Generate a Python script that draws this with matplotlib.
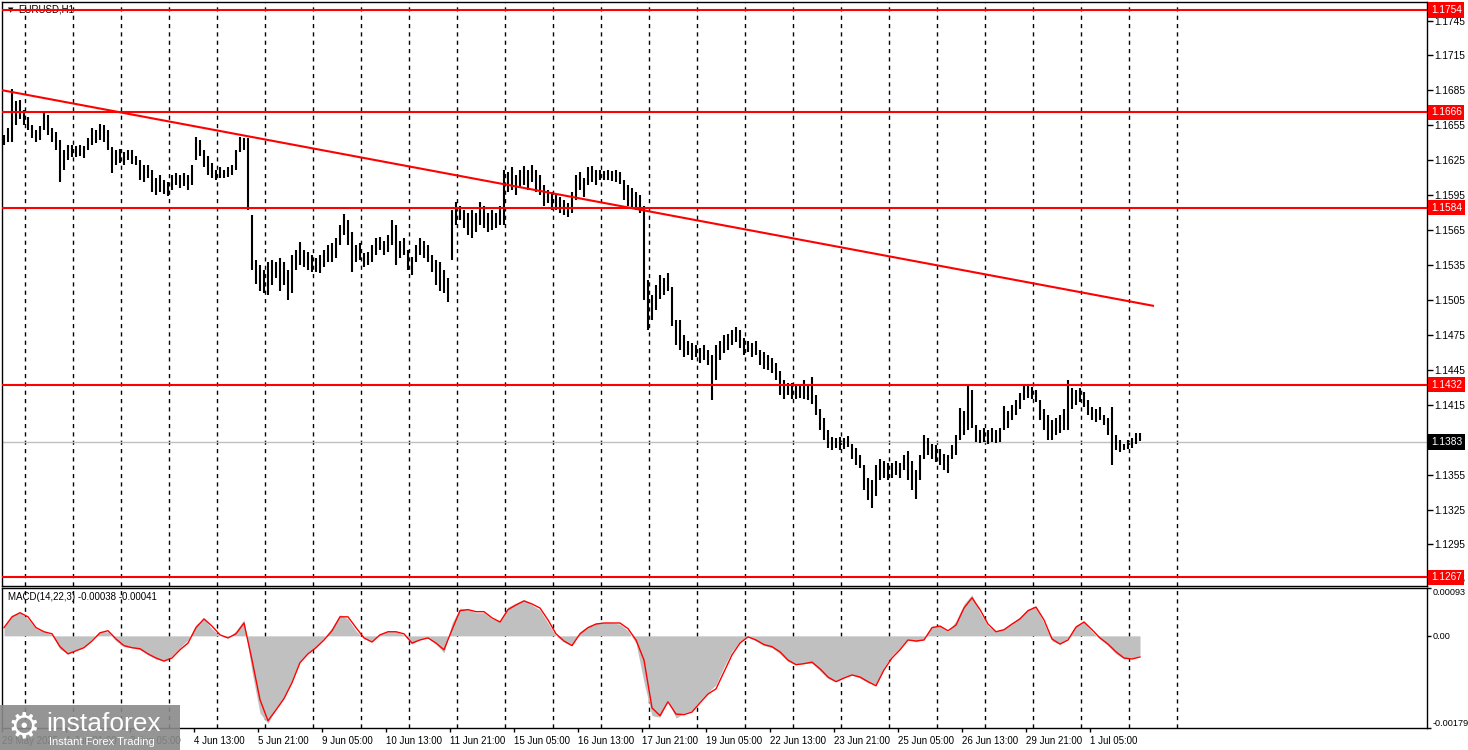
import numpy as np
import matplotlib
matplotlib.use("Agg")
import matplotlib.pyplot as plt
import matplotlib.transforms as mtransforms
from matplotlib.patches import Rectangle

SYMBOL = "EURUSD,H1"

# H1 bars (one entry per 2 hours), high / low in pips above 1.0000 (1645 -> 1.1645)
HIGH = [
    1647, 1653, 1686, 1676, 1677, 1668, 1662, 1655, 1651, 1654,
    1667, 1664, 1653, 1649, 1642, 1634, 1638, 1638, 1637, 1638,
    1637, 1644, 1653, 1651, 1656, 1655, 1651, 1636, 1634, 1635,
    1632, 1634, 1634, 1629, 1625, 1621, 1621, 1617, 1610, 1612,
    1608, 1606, 1612, 1614, 1612, 1614, 1612, 1621, 1645, 1642,
    1634, 1629, 1623, 1617, 1619, 1617, 1619, 1621, 1634, 1645,
    1644, 1644, 1578, 1539, 1535, 1531, 1538, 1539, 1538, 1541,
    1538, 1531, 1544, 1548, 1555, 1548, 1546, 1544, 1541, 1544,
    1548, 1552, 1554, 1558, 1569, 1579, 1574, 1563, 1552, 1554,
    1545, 1546, 1552, 1558, 1559, 1556, 1561, 1574, 1569, 1556,
    1558, 1548, 1542, 1552, 1558, 1556, 1552, 1544, 1539, 1538,
    1531, 1524, 1582, 1589, 1586, 1582, 1580, 1582, 1580, 1589,
    1586, 1580, 1582, 1580, 1586, 1617, 1615, 1619, 1612, 1617,
    1620, 1617, 1621, 1617, 1612, 1604, 1599, 1598, 1595, 1593,
    1591, 1588, 1598, 1612, 1615, 1610, 1619, 1620, 1617, 1617,
    1616, 1617, 1616, 1617, 1615, 1608, 1604, 1601, 1598, 1595,
    1586, 1522, 1509, 1518, 1526, 1524, 1528, 1516, 1488, 1488,
    1475, 1470, 1468, 1466, 1464, 1466, 1462, 1458, 1466, 1470,
    1475, 1476, 1479, 1482, 1479, 1472, 1470, 1468, 1470, 1462,
    1460, 1458, 1455, 1451, 1444, 1436, 1434, 1434, 1432, 1433,
    1436, 1432, 1439, 1423, 1411, 1404, 1393, 1387, 1386, 1387,
    1386, 1388, 1381, 1378, 1372, 1363, 1352, 1350, 1363, 1368,
    1367, 1365, 1365, 1367, 1365, 1372, 1375, 1367, 1359, 1372,
    1389, 1386, 1381, 1380, 1377, 1373, 1372, 1380, 1389, 1412,
    1410, 1432, 1428, 1398, 1393, 1395, 1393, 1395, 1393, 1395,
    1414, 1410, 1415, 1419, 1425, 1432, 1432, 1430, 1428, 1419,
    1411, 1406, 1402, 1404, 1406, 1411, 1436, 1429, 1428, 1429,
    1426, 1419, 1413, 1411, 1413, 1406, 1404, 1413, 1389, 1385,
    1381, 1385, 1386, 1391, 1391,
]
LOW = [
    1638, 1641, 1641, 1655, 1660, 1655, 1651, 1644, 1641, 1642,
    1651, 1647, 1641, 1634, 1606, 1617, 1625, 1628, 1628, 1629,
    1627, 1634, 1638, 1640, 1642, 1641, 1634, 1614, 1621, 1623,
    1621, 1625, 1622, 1621, 1608, 1606, 1610, 1598, 1595, 1598,
    1596, 1594, 1599, 1604, 1601, 1603, 1599, 1604, 1625, 1629,
    1619, 1612, 1610, 1608, 1610, 1610, 1611, 1612, 1617, 1632,
    1634, 1582, 1531, 1519, 1513, 1511, 1509, 1518, 1524, 1513,
    1518, 1505, 1511, 1531, 1535, 1533, 1531, 1529, 1529, 1528,
    1533, 1538, 1538, 1541, 1552, 1561, 1552, 1529, 1538, 1539,
    1533, 1535, 1538, 1544, 1548, 1544, 1546, 1552, 1535, 1541,
    1544, 1531, 1526, 1538, 1544, 1541, 1538, 1529, 1518, 1513,
    1511, 1503, 1539, 1569, 1574, 1567, 1561, 1558, 1563, 1569,
    1567, 1563, 1565, 1567, 1569, 1569, 1598, 1599, 1595, 1601,
    1604, 1599, 1606, 1598, 1595, 1586, 1588, 1582, 1582, 1580,
    1578, 1576, 1580, 1591, 1599, 1593, 1604, 1606, 1604, 1608,
    1608, 1608, 1607, 1606, 1605, 1591, 1586, 1585, 1582, 1580,
    1505, 1479, 1488, 1496, 1506, 1509, 1513, 1483, 1466, 1462,
    1456, 1458, 1453, 1456, 1451, 1453, 1449, 1419, 1436, 1453,
    1459, 1462, 1466, 1469, 1464, 1458, 1460, 1456, 1458, 1449,
    1446, 1445, 1442, 1436, 1423, 1420, 1423, 1420, 1420, 1421,
    1420, 1419, 1416, 1406, 1393, 1385, 1378, 1376, 1378, 1376,
    1377, 1379, 1368, 1363, 1361, 1342, 1333, 1326, 1337, 1350,
    1352, 1350, 1352, 1355, 1352, 1359, 1350, 1342, 1334, 1350,
    1368, 1372, 1368, 1366, 1363, 1359, 1356, 1368, 1372, 1385,
    1389, 1393, 1395, 1383, 1382, 1383, 1381, 1383, 1382, 1383,
    1393, 1395, 1402, 1406, 1411, 1419, 1421, 1420, 1417, 1402,
    1393, 1385, 1385, 1389, 1391, 1393, 1393, 1411, 1415, 1417,
    1413, 1406, 1402, 1400, 1402, 1398, 1389, 1363, 1376, 1374,
    1376, 1377, 1378, 1381, 1384,
]

# MACD(14,22,3), one value every second bar, in units of 1e-5
MACD_MAIN = [
    16, 40, 45, 33, 14, 8, 2, -26, -35, -27,
    -21, -6, 8, 8, -10, -21, -23, -27, -37, -45,
    -49, -39, -23, -8, 22, 33, 14, 0, -4, 10,
    31, -70, -150, -170, -140, -120, -85, -48, -33, -21,
    -4, 16, 41, 33, 10, -6, -10, 4, 8, 8,
    2, -16, -6, -4, -16, -33, 25, 54, 51, 45,
    45, 33, 29, 56, 64, 70, 60, 50, 25, 0,
    -12, -19, 8, 19, 25, 25, 25, 23, 10, -14,
    -90, -155, -158, -125, -160, -150, -145, -125, -110, -95,
    -60, -30, -10, -2, -10, -19, -23, -35, -50, -56,
    -54, -53, -68, -83, -89, -80, -76, -82, -91, -95,
    -60, -38, -23, -6, -12, -6, 19, 19, 8, 29,
    62, 80, 45, 19, 8, 14, 25, 37, 52, 56,
    25, -10, -16, -4, 21, 27, 8, -6, -19, -35,
    -45, -43, -38,
]
MACD_SIGNAL = [
    16, 37, 45, 37, 16, 8, 4, -21, -35, -29,
    -23, -10, 6, 10, -6, -19, -23, -25, -35, -43,
    -49, -43, -27, -14, 16, 33, 19, 2, -4, 4,
    25, -47, -124, -165, -144, -122, -91, -52, -35, -23,
    -8, 10, 37, 37, 16, -4, -12, 2, 8, 8,
    4, -14, -8, -4, -14, -27, 12, 49, 51, 47,
    47, 35, 27, 51, 60, 68, 62, 54, 31, 4,
    -10, -19, 4, 16, 23, 25, 25, 25, 14, -8,
    -47, -140, -155, -128, -152, -153, -148, -130, -113, -103,
    -70, -37, -14, -2, -8, -17, -21, -31, -47, -56,
    -54, -51, -64, -80, -89, -82, -76, -80, -89, -97,
    -66, -43, -27, -8, -10, -8, 16, 19, 10, 21,
    54, 74, 51, 23, 8, 12, 23, 33, 49, 56,
    31, -6, -16, -8, 17, 27, 12, -4, -16, -31,
    -43, -45, -41,
]

LEVELS = [1.1754, 1.1666, 1.1584, 1.1432, 1.1267]
LAST_PRICE = 1.1383
TREND_X = [-0.25, 287.25]
TREND_Y = [1.1685, 1.1500]

PRICE_TICKS = [1.1745, 1.1715, 1.1685, 1.1655, 1.1625, 1.1595, 1.1565, 1.1535,
               1.1505, 1.1475, 1.1445, 1.1415, 1.1385, 1.1355, 1.1325, 1.1295, 1.1265]
MACD_TICKS = [0.00093, 0.0, -0.00179]
MACD_TICK_LABELS = ["0.00093", "0.00", "-0.00179"]
X_LABELS = ["29 May 2025", "1 Jun 21:00", "3 Jun 05:00", "4 Jun 13:00", "5 Jun 21:00",
            "9 Jun 05:00", "10 Jun 13:00", "11 Jun 21:00", "15 Jun 05:00", "16 Jun 13:00",
            "17 Jun 21:00", "19 Jun 05:00", "22 Jun 13:00", "23 Jun 21:00", "25 Jun 05:00",
            "26 Jun 13:00", "29 Jun 21:00", "1 Jul 05:00"]

plt.rcParams["font.family"] = ["Liberation Sans", "DejaVu Sans"]

W, H = 1468, 750
fig = plt.figure(figsize=(W / 100, H / 100), dpi=100)
fig.patch.set_facecolor("white")


def px_axes(l, t, r, b):
    return fig.add_axes([l / W, 1 - b / H, (r - l) / W, (b - t) / H])


ax = px_axes(2, 2, 1427, 586)
axm = px_axes(2, 588, 1427, 728)

xs = np.arange(len(HIGH))
hi = 1 + np.array(HIGH) / 10000
lo = 1 + np.array(LOW) / 10000
XLIM = (-0.5, 355.75)

# ---- price pane ----
ax.vlines(xs, lo, hi, color="black", lw=1.5, zorder=3)
ax.axhline(LAST_PRICE, color="#c0c0c0", lw=1, zorder=2)
for lv in LEVELS:
    ax.axhline(lv, color="#ff0000", lw=1.5, zorder=4)
ax.plot(TREND_X, TREND_Y, color="#ff0000", lw=1.5, zorder=4)
ax.set_xlim(*XLIM)
ax.set_ylim(1.12593, 1.17609)
ax.set_xticks([])
ax.yaxis.tick_right()
ax.set_yticks(PRICE_TICKS)
ax.set_yticklabels([f"{v:.4f}" for v in PRICE_TICKS])
ax.tick_params(axis="y", length=4, width=1, pad=1, labelsize=7.3)

trans = mtransforms.blended_transform_factory(ax.transAxes, ax.transData)
for lv in LEVELS:
    ax.text(1 + 4 / 1425, lv, f"{lv:.4f}", transform=trans, ha="left", va="center",
            fontsize=7.3, color="white", clip_on=False, zorder=10,
            bbox=dict(boxstyle="square,pad=0.25", fc="#ff0000", ec="none"))
ax.text(1 + 4 / 1425, LAST_PRICE, f"{LAST_PRICE:.4f}", transform=trans, ha="left",
        va="center", fontsize=7.3, color="white", clip_on=False, zorder=10,
        bbox=dict(boxstyle="square,pad=0.25", fc="black", ec="none"))

ax.text(6 / 1425, 1 - 8 / 584, "\u25bc", transform=ax.transAxes, fontsize=5,
        va="center", ha="left", zorder=1, family="DejaVu Sans")
ax.text(16 / 1425, 1 - 8 / 584, SYMBOL, transform=ax.transAxes, fontsize=7,
        va="center", ha="left", zorder=1)

# ---- MACD pane ----
xm = np.arange(0, len(HIGH), 2)
main = np.array(MACD_MAIN) * 1e-5
sig = np.array(MACD_SIGNAL) * 1e-5
axm.fill_between(xm, 0, main, color="#c0c0c0", lw=0, zorder=2)
axm.plot(xm, sig, color="#ff0000", lw=1, zorder=3)
axm.set_xlim(*XLIM)
axm.set_ylim(-0.00179, 0.00093)
axm.yaxis.tick_right()
axm.set_yticks(MACD_TICKS)
axm.set_yticklabels(MACD_TICK_LABELS)
axm.tick_params(axis="y", length=3, width=1, pad=1, labelsize=6.6)
ylbl = axm.get_yticklabels()
ylbl[0].set_va("top")
ylbl[2].set_va("bottom")
axm.text(6 / 1425, 1 - 9 / 140, "MACD(14,22,3) -0.00038 -0.00041",
         transform=axm.transAxes, fontsize=7, va="center", ha="left")

xt = [-0.5 + 16 * k for k in range(len(X_LABELS))]
axm.set_xticks(xt)
axm.set_xticklabels(X_LABELS)
axm.tick_params(axis="x", length=3, width=1, pad=3, labelsize=7)
for t in axm.get_xticklabels():
    t.set_ha("left")

# dashed vertical grid (every 12 bars)
for g in np.arange(5.25, 300, 12):
    for a in (ax, axm):
        a.axvline(g, color="black", lw=1, ls=(0, (3, 3)), zorder=1)

for a in (ax, axm):
    for s in a.spines.values():
        s.set_linewidth(1)
        s.set_color("black")

# watermark
fig.patches.append(Rectangle((0, 0), 180 / W, 45 / H, transform=fig.transFigure,
                             fc="#8a8a8a", ec="none", alpha=0.9, zorder=20))
fig.text(24 / W, 1 - 727 / H, "\u2699", fontsize=26, color="white", ha="center",
         va="center", zorder=21, family="DejaVu Sans")
fig.text(46 / W, 1 - 724 / H, "instaforex", fontsize=19, color="white", ha="left",
         va="center", zorder=21)
fig.text(49 / W, 1 - 742 / H, "Instant Forex Trading", fontsize=8, color="white",
         ha="left", va="center", zorder=21)

fig.savefig("out.png", dpi=100)
